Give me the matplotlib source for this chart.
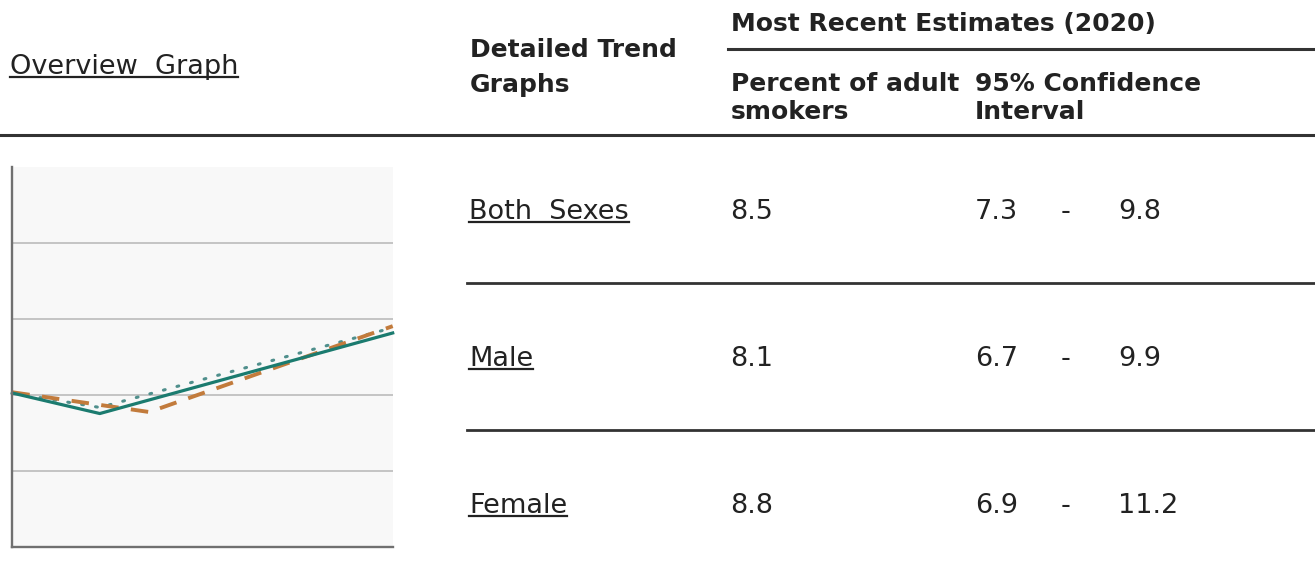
import matplotlib
matplotlib.use("Agg")
import matplotlib.pyplot as plt
from matplotlib.lines import Line2D

# ---------------- data ----------------
years_both = [2000, 2004.6, 2020]
both_sexes = [20.3, 17.6, 28.2]          # solid teal
years_male = [2000, 2007.2, 2020]
male = [20.4, 17.8, 29.1]                # dashed orange
years_female = [2000, 2004.6, 2020]
female = [20.3, 18.4, 28.9]              # dotted teal-gray

groups = ["Both Sexes", "Male", "Female"]
percent = ["8.5", "8.1", "8.8"]
ci_low = ["7.3", "6.7", "6.9"]
ci_high = ["9.8", "9.9", "11.2"]

header_overview = "Overview Graph"
header_detail = ["Detailed Trend", "Graphs"]
header_recent = "Most Recent Estimates (2020)"
header_pct = ["Percent of adult", "smokers"]
header_ci = ["95% Confidence", "Interval"]

# ---------------- layout ----------------
W, H = 1315, 576
fig = plt.figure(figsize=(W / 100, H / 100), dpi=100)
fig.patch.set_facecolor("white")

def fx(x):
    return x / W

def fy(y):
    return 1 - y / H

TXT = "#222222"
LINE = "#333333"
body_fs = 19.5
head_fs = 18

def hline(x0, x1, y, lw=2.2, color=LINE):
    fig.add_artist(Line2D([fx(x0), fx(x1)], [fy(y), fy(y)], color=color,
                          lw=lw, transform=fig.transFigure))

links = []

def text(x, y, s, bold=False, size=body_fs, underline=False, ha="left"):
    t = fig.text(fx(x), fy(y), s, fontsize=size, color=TXT,
                 fontweight="bold" if bold else "normal",
                 family="DejaVu Sans", ha=ha, va="baseline")
    if underline:
        links.append((t, y))
    return t

# header
text(10, 74, header_overview.replace(" ", "  "), underline=True)
text(470, 57, header_detail[0], bold=True, size=head_fs)
text(470, 92, header_detail[1], bold=True, size=head_fs)
text(731, 31, header_recent, bold=True, size=head_fs)
text(731, 91, header_pct[0], bold=True, size=head_fs)
text(731, 119, header_pct[1], bold=True, size=head_fs)
text(975, 91, header_ci[0], bold=True, size=head_fs)
text(975, 119, header_ci[1], bold=True, size=head_fs)

hline(728, W, 49, lw=2.2)
hline(0, W, 135, lw=2.2)

# rows
row_base = [219, 366, 513]
for g, p, lo, hi, yb in zip(groups, percent, ci_low, ci_high, row_base):
    text(469, yb, g.replace(" ", "  "), underline=True)
    text(730, yb, p)
    text(975, yb, lo)
    text(1066, yb, "-", ha="center")
    text(1118, yb, hi)
hline(467, W, 283, lw=2.0)
hline(467, W, 430, lw=2.0)

# underline links
fig.canvas.draw()
r = fig.canvas.get_renderer()
for t, yb in links:
    bb = t.get_window_extent(r)
    x0, x1 = bb.x0, bb.x1
    fig.add_artist(Line2D([x0 / W, x1 / W], [fy(yb + 2.8), fy(yb + 2.8)],
                          color=TXT, lw=1.6, transform=fig.transFigure))

# ---------------- mini chart ----------------
ax = fig.add_axes([fx(12.3), fy(547.3), (392.7 - 12.3) / W, 380 / H])
ax.set_facecolor("#f8f8f8")
ax.set_xlim(2000, 2020)
ax.set_ylim(0, 50)
ax.set_yticks([10, 20, 30, 40])
ax.yaxis.grid(True, color="#c4c4c4", lw=1.4)
ax.set_axisbelow(True)
ax.tick_params(left=False, bottom=False, labelleft=False, labelbottom=False)
for s in ["top", "right"]:
    ax.spines[s].set_visible(False)
for s in ["left", "bottom"]:
    ax.spines[s].set_color("#707070")
    ax.spines[s].set_linewidth(1.7)

ax.plot(years_female, female, color="#4f8f8c", lw=2.2, ls=(0, (0.6, 4.0)),
        dash_capstyle="round", clip_on=False)
ax.plot(years_male, male, color="#c27b3c", lw=2.8, ls=(0, (4.5, 3.2)),
        clip_on=False)
ax.plot(years_both, both_sexes, color="#1b7b6f", lw=2.3, clip_on=False)

fig.savefig("out.png", dpi=100, facecolor="white")
